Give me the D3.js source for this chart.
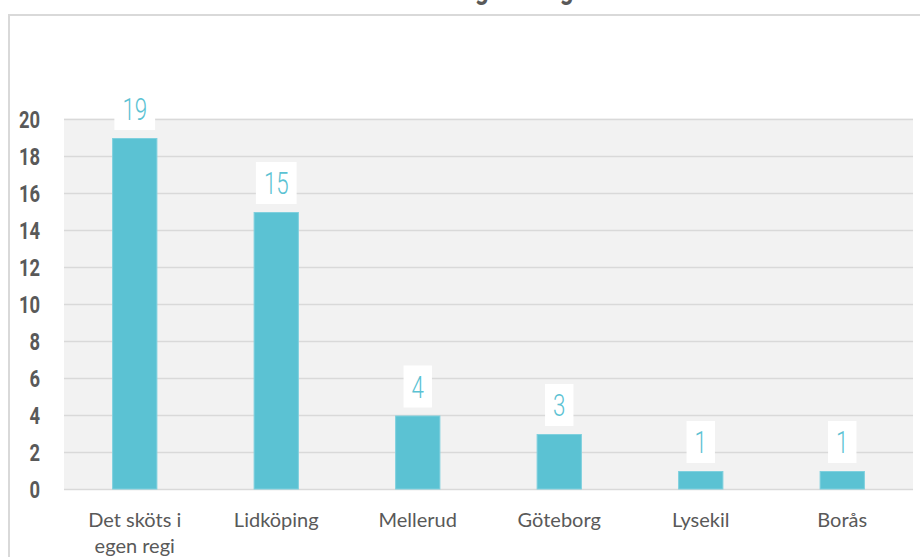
<!DOCTYPE html>
<html>
<head>
<meta charset="utf-8">
<script src="https://cdn.jsdelivr.net/npm/d3@7"></script>
<style>
  body { margin: 0; background: #fff; }
  svg { display: block; }
</style>
</head>
<body>
<div id="chart"></div>
<script>
var categories = ["Det sköts i egen regi", "Lidköping", "Mellerud", "Göteborg", "Lysekil", "Borås"];
var values = [19, 15, 4, 3, 1, 1];
var yTicks = [0, 2, 4, 6, 8, 10, 12, 14, 16, 18, 20];
var title = "Var sköts tvättningen i dag?";

var width = 920;
var height = 557;

var svg = d3.select("#chart").append("svg")
    .attr("width", width)
    .attr("height", height);

// outer frame, runs off the right and bottom edge
svg.append("rect")
    .attr("x", 9)
    .attr("y", 15)
    .attr("width", 940)
    .attr("height", 600)
    .attr("fill", "#fff")
    .attr("stroke", "#d9d9d9")
    .attr("stroke-width", 2);

// title, mostly cut off at the top like in the original
svg.append("text")
    .text(title)
    .attr("text-anchor", "middle")
    .attr("font-family", "Roboto")
    .attr("font-weight", "bold")
    .attr("font-size", 30)
    .attr("fill", "#595959")
    .attr("transform", "translate(435,-1) scale(0.8,1)");

var plot = {left: 64, right: 913, top: 119.5, bottom: 489.5};

var x = d3.scaleBand()
    .domain(categories)
    .range([plot.left, plot.right])
    .paddingInner(0.68)
    .paddingOuter(0.34);

var y = d3.scaleLinear()
    .domain([0, 20])
    .range([plot.bottom, plot.top]);

// plot background
svg.append("rect")
    .attr("x", plot.left)
    .attr("y", y(20) - 1)
    .attr("width", plot.right - plot.left)
    .attr("height", plot.bottom - y(20) + 1)
    .attr("fill", "#f2f2f2");

// gridlines
svg.append("g")
    .selectAll("line")
    .data(yTicks)
    .join("line")
    .attr("x1", plot.left)
    .attr("x2", plot.right)
    .attr("y1", function(d) { return y(d); })
    .attr("y2", function(d) { return y(d); })
    .attr("stroke", "#d9d9d9")
    .attr("stroke-width", 1.5);

// y axis labels, condensed by scaling
var yAxis = d3.axisLeft(y).tickValues(yTicks).tickSize(0).tickPadding(0);
var yg = svg.append("g")
    .attr("transform", "translate(40,0)")
    .call(yAxis);
yg.select(".domain").remove();
yg.selectAll("text")
    .attr("x", 0)
    .attr("font-family", "Roboto")
    .attr("font-weight", "bold")
    .attr("font-size", 23)
    .attr("fill", "#595959")
    .attr("dy", "0.36em")
    .attr("transform", "scale(0.8,1)");

// bars
svg.append("g")
    .selectAll("rect")
    .data(values)
    .join("rect")
    .attr("x", function(d, i) { return x(categories[i]) + 0.5; })
    .attr("y", function(d) { return y(d) + 0.5; })
    .attr("width", x.bandwidth() - 1)
    .attr("height", function(d) { return y(0) - y(d) - 1; })
    .attr("fill", "#5bc2d3")
    .attr("stroke", "#7fd0de")
    .attr("stroke-width", 1);

// value labels in white boxes
var labels = svg.append("g")
    .selectAll("g")
    .data(values)
    .join("g")
    .attr("transform", function(d, i) {
        return "translate(" + (x(categories[i]) + x.bandwidth() / 2) + "," + (y(d) - 8) + ")";
    });

labels.append("rect")
    .attr("fill", "#fff");

labels.append("text")
    .text(function(d) { return d; })
    .attr("text-anchor", "middle")
    .attr("font-family", "Roboto")
    .attr("font-weight", 300)
    .attr("font-size", 31)
    .attr("fill", "#5bc2d3")
    .attr("transform", "translate(0,-10) scale(0.72,1)");

labels.each(function() {
    var g = d3.select(this);
    var w = g.select("text").node().getComputedTextLength() * 0.72 + 16;
    g.select("rect")
        .attr("x", -w / 2)
        .attr("y", -42)
        .attr("width", w)
        .attr("height", 42);
});

// category labels, wrapped
var xg = svg.append("g")
    .selectAll("text")
    .data(categories)
    .join("text")
    .attr("x", function(d) { return x(d) + x.bandwidth() / 2; })
    .attr("y", plot.bottom + 37)
    .attr("text-anchor", "middle")
    .attr("font-family", "Lato")
    .attr("font-size", 20)
    .attr("fill", "#595959");

xg.each(function(d) {
    var t = d3.select(this);
    var words = d.split(" ");
    var lines = [];
    var line = [];
    var probe = t.append("tspan");
    words.forEach(function(w) {
        line.push(w);
        probe.text(line.join(" "));
        if (probe.node().getComputedTextLength() > x.step() * 0.75 && line.length > 1) {
            line.pop();
            lines.push(line.join(" "));
            line = [w];
        }
    });
    lines.push(line.join(" "));
    probe.remove();
    lines.forEach(function(l, i) {
        t.append("tspan")
            .attr("x", t.attr("x"))
            .attr("dy", i === 0 ? 0 : 26)
            .text(l);
    });
});
</script>
</body>
</html>
